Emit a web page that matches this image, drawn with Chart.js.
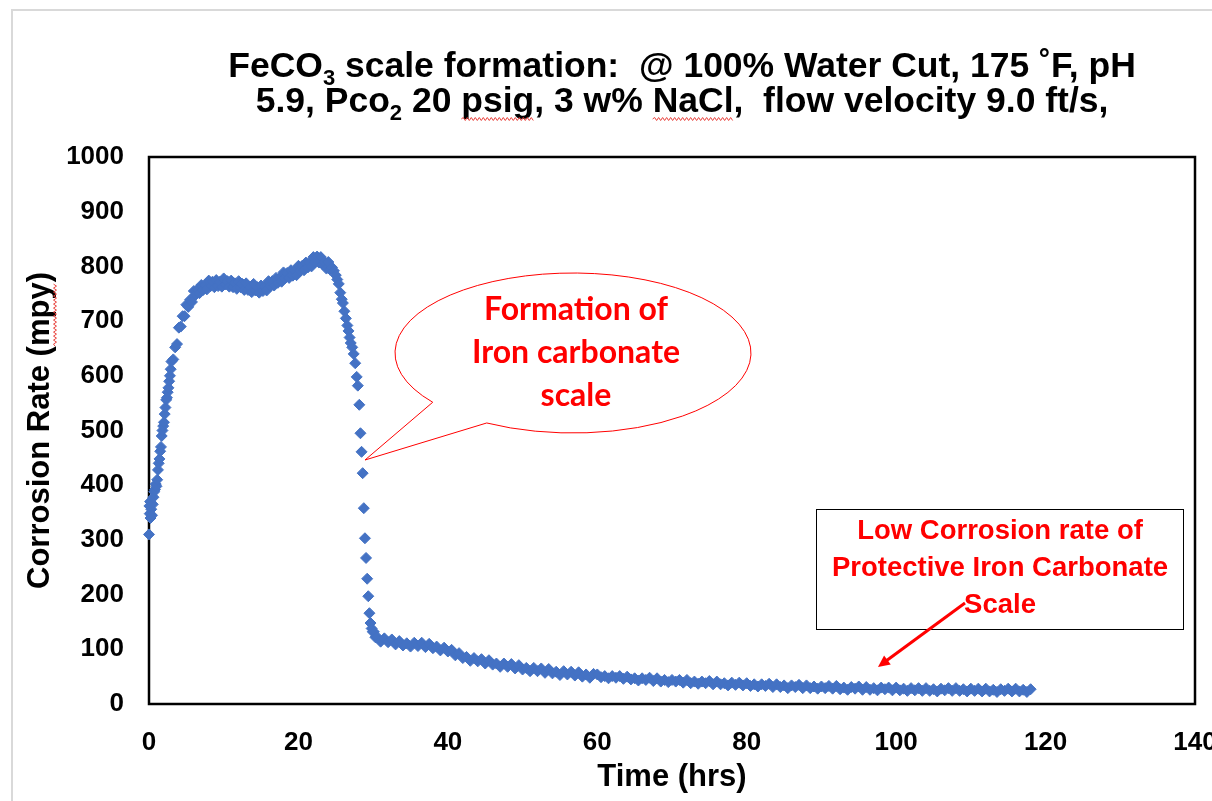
<!DOCTYPE html>
<html>
<head>
<meta charset="utf-8">
<script src="https://cdn.jsdelivr.net/npm/chart.js@4.4.0/dist/chart.umd.min.js"></script>
<style>
  html, body { margin: 0; padding: 0; background: #fff; }
  #wrap { width: 1212px; height: 801px; }
</style>
</head>
<body>
<div id="wrap"><canvas id="corrosionChart" width="1212" height="801"></canvas></div>
<script>
// start-up: quick climb from ~310 mpy
const riseHours = [0, 0.05, 0.1, 0.15, 0.2, 0.3, 0.4, 0.5, 0.6, 0.7,
  0.8, 0.9, 1.0, 1.1, 1.2, 1.3, 1.4, 1.5, 1.6, 1.7,
  1.8, 1.9, 2.0, 2.1, 2.2, 2.3, 2.4, 2.5, 2.6, 2.7,
  2.8, 2.9];
const riseRate = [310, 362, 348, 370, 340, 356, 345, 365, 378, 388,
  392, 402, 398, 410, 428, 440, 448, 462, 470, 490,
  500, 508, 515, 530, 542, 556, 560, 570, 578, 590,
  600, 612];

// plateau up to the ~820 mpy peak
const plateauHours = [3, 3.25, 3.5, 3.75, 4, 4.25, 4.5, 4.75, 5, 5.25,
  5.5, 5.75, 6, 6.25, 6.5, 6.75, 7, 7.25, 7.5, 7.75,
  8, 8.25, 8.5, 8.75, 9, 9.25, 9.5, 9.75, 10, 10.25,
  10.5, 10.75, 11, 11.25, 11.5, 11.75, 12, 12.25, 12.5, 12.75,
  13, 13.25, 13.5, 13.75, 14, 14.25, 14.5, 14.75, 15, 15.25,
  15.5, 15.75, 16, 16.25, 16.5, 16.75, 17, 17.25, 17.5, 17.75,
  18, 18.25, 18.5, 18.75, 19, 19.25, 19.5, 19.75, 20, 20.25,
  20.5, 20.75, 21, 21.25, 21.5, 21.75, 22, 22.25, 22.5, 22.75,
  23, 23.25, 23.5, 23.75, 24, 24.25, 24.5];
const plateauRate = [626, 630, 652, 658, 688, 690, 709, 709, 730, 726,
  739, 735, 755, 748, 758, 751, 766, 757, 766, 758,
  774, 764, 772, 762, 775, 764, 772, 763, 778, 767,
  773, 763, 774, 762, 769, 759, 773, 762, 768, 757,
  769, 757, 763, 753, 768, 756, 762, 752, 765, 755,
  763, 756, 773, 764, 773, 765, 779, 770, 779, 772,
  789, 779, 788, 779, 793, 783, 792, 784, 801, 792,
  801, 793, 807, 798, 807, 800, 817, 808, 818, 807,
  817, 804, 808, 796, 808, 794, 798];

// scale forms: steep drop
const dropHours = [24.75, 25.0, 25.2, 25.4, 25.6, 25.8, 25.95, 26.15, 26.35, 26.55,
  26.7, 26.85, 27.0, 27.2, 27.4, 27.6, 27.8, 27.95, 28.15, 28.3,
  28.45, 28.6, 28.75, 28.9, 29.05, 29.2, 29.35, 29.5, 29.65, 29.8,
  29.95];
const dropRate = [792, 784, 776, 768, 752, 740, 733, 718, 705, 692,
  682, 670, 660, 652, 640, 623, 598, 582, 547, 495,
  461, 422, 358, 303, 267, 229, 197, 166, 148, 138,
  132];

// protective scale: slow decay to ~25 mpy
const tailHours = [30.1, 30.3, 30.5, 31, 31.5, 32, 32.5, 33, 33.5, 34,
  34.5, 35, 35.5, 36, 36.5, 37, 37.5, 38, 38.5, 39,
  39.5, 40, 40.5, 41, 41.5, 42, 42.5, 43, 43.5, 44,
  44.5, 45, 45.5, 46, 46.5, 47, 47.5, 48, 48.5, 49,
  49.5, 50, 50.5, 51, 51.5, 52, 52.5, 53, 53.5, 54,
  54.5, 55, 55.5, 56, 56.5, 57, 57.5, 58, 58.5, 59,
  59.5, 60, 60.5, 61, 61.5, 62, 62.5, 63, 63.5, 64,
  64.5, 65, 65.5, 66, 66.5, 67, 67.5, 68, 68.5, 69,
  69.5, 70, 70.5, 71, 71.5, 72, 72.5, 73, 73.5, 74,
  74.5, 75, 75.5, 76, 76.5, 77, 77.5, 78, 78.5, 79,
  79.5, 80, 80.5, 81, 81.5, 82, 82.5, 83, 83.5, 84,
  84.5, 85, 85.5, 86, 86.5, 87, 87.5, 88, 88.5, 89,
  89.5, 90, 90.5, 91, 91.5, 92, 92.5, 93, 93.5, 94,
  94.5, 95, 95.5, 96, 96.5, 97, 97.5, 98, 98.5, 99,
  99.5, 100, 100.5, 101, 101.5, 102, 102.5, 103, 103.5, 104,
  104.5, 105, 105.5, 106, 106.5, 107, 107.5, 108, 108.5, 109,
  109.5, 110, 110.5, 111, 111.5, 112, 112.5, 113, 113.5, 114,
  114.5, 115, 115.5, 116, 116.5, 117, 117.5, 118];
const tailRate = [132, 122, 123, 114, 120, 113, 118, 109, 115, 107,
  111, 105, 112, 106, 112, 104, 110, 102, 105, 98,
  103, 96, 99, 89, 93, 84, 86, 79, 84, 78,
  82, 74, 80, 72, 74, 68, 74, 68, 73, 65,
  71, 63, 66, 60, 66, 60, 65, 57, 64, 56,
  59, 53, 60, 54, 59, 52, 58, 50, 54, 48,
  55, 54, 49, 51, 47, 51, 48, 51, 46, 50,
  45, 47, 43, 47, 44, 48, 42, 47, 41, 44,
  40, 44, 41, 44, 39, 44, 38, 41, 37, 41,
  38, 42, 36, 41, 36, 38, 34, 39, 35, 39,
  34, 38, 33, 36, 32, 36, 33, 37, 31, 36,
  31, 34, 29, 34, 31, 35, 29, 34, 29, 32,
  28, 32, 29, 33, 28, 33, 27, 30, 26, 31,
  28, 32, 26, 31, 26, 29, 25, 30, 27, 30,
  25, 30, 25, 28, 24, 29, 25, 29, 24, 29,
  24, 27, 23, 28, 25, 29, 24, 29, 24, 27,
  23, 28, 24, 28, 23, 28, 23, 26, 22, 27,
  24, 28, 23, 28, 23, 26, 22, 27];

const xTicks = [0, 20, 40, 60, 80, 100, 120, 140];
const yTicks = [0, 100, 200, 300, 400, 500, 600, 700, 800, 900, 1000];

const hours = riseHours.concat(plateauHours, dropHours, tailHours);
const rate = riseRate.concat(plateauRate, dropRate, tailRate);
const points = hours.map((h, i) => ({ x: h, y: rate[i] }));

const ARIAL = '"Liberation Sans", Arial, sans-serif';
const BLUE = '#4472C4';
const RED = '#ff0000';

// red spell-check style wavy line
function squiggle(ctx, x1, y1, len, vertical) {
  ctx.save();
  ctx.strokeStyle = '#e8413c';
  ctx.lineWidth = 1;
  ctx.beginPath();
  ctx.moveTo(x1, y1);
  let up = true;
  for (let s = 2; s <= len; s += 2) {
    const off = up ? -1.5 : 1.5;
    if (vertical) ctx.lineTo(x1 + off, y1 - s);
    else ctx.lineTo(x1 + s, y1 + off);
    up = !up;
  }
  ctx.stroke();
  ctx.restore();
}

function drawRuns(ctx, runs, cx, baseline, size) {
  const fontFor = r => 'bold ' + (r.sub ? Math.round(size * 0.62) : size) + 'px ' + ARIAL;
  let total = 0;
  runs.forEach(r => { ctx.font = fontFor(r); r.w = ctx.measureText(r.text).width; total += r.w; });
  let x = cx - total / 2;
  ctx.textAlign = 'left';
  ctx.textBaseline = 'alphabetic';
  ctx.fillStyle = '#000';
  runs.forEach(r => {
    ctx.font = fontFor(r);
    ctx.fillText(r.text, x, r.sub ? baseline + size * 0.22 : baseline);
    if (r.wavy) squiggle(ctx, x, baseline + 7, r.w, false);
    x += r.w;
  });
}

const decor = {
  id: 'decor',
  beforeDraw(chart) {
    const ctx = chart.ctx;
    ctx.save();
    ctx.strokeStyle = '#d9d9d9';
    ctx.lineWidth = 2;
    ctx.beginPath();
    ctx.moveTo(12, 801);
    ctx.lineTo(12, 10);
    ctx.lineTo(1212, 10);
    ctx.stroke();
    ctx.restore();
  },
  beforeDatasetsDraw(chart) {
    const { ctx, chartArea: a } = chart;
    ctx.save();
    ctx.strokeStyle = '#000';
    ctx.lineWidth = 2.5;
    ctx.strokeRect(a.left, a.top, a.right - a.left, a.bottom - a.top);
    ctx.restore();
  },
  afterDraw(chart) {
    const { ctx, chartArea: a } = chart;
    ctx.save();

    // title with subscripts
    drawRuns(ctx, [
      { text: 'FeCO' }, { text: '3', sub: true },
      { text: ' scale formation:  @ 100% Water Cut, 175 \u02DAF, pH' }
    ], 682, 77, 35.5);
    drawRuns(ctx, [
      { text: '5.9, Pco' }, { text: '2', sub: true }, { text: ' 20 ' },
      { text: 'psig', wavy: true }, { text: ', 3 w% ' }, { text: 'NaCl', wavy: true },
      { text: ',  flow velocity 9.0 ft/s,' }
    ], 682, 112, 35.5);

    // squiggle under "mpy" in the y title
    ctx.font = 'bold 31px ' + ARIAL;
    const full = ctx.measureText('Corrosion Rate (mpy)').width;
    const pre = ctx.measureText('Corrosion Rate (').width;
    const mpyW = ctx.measureText('mpy').width;
    const start = (a.top + a.bottom) / 2 + full / 2;
    squiggle(ctx, 55, start - pre, mpyW, true);

    // speech bubble
    const cx = 573, cy = 353, rx = 178, ry = 80;
    const a1 = 142 * Math.PI / 180, a2 = 119 * Math.PI / 180;
    ctx.beginPath();
    ctx.ellipse(cx, cy, rx, ry, 0, a1, a2 + 2 * Math.PI, false);
    ctx.lineTo(365, 460);
    ctx.closePath();
    ctx.fillStyle = '#fff';
    ctx.fill();
    ctx.strokeStyle = RED;
    ctx.lineWidth = 1;
    ctx.stroke();

    ctx.fillStyle = RED;
    ctx.textAlign = 'center';
    ctx.textBaseline = 'middle';
    ctx.font = 'bold 32px Lato, "Open Sans", sans-serif';
    ctx.fillText('Formation of', 576, 310);
    ctx.fillText('Iron carbonate', 576, 353);
    ctx.fillText('scale', 576, 396);

    // note box
    ctx.fillStyle = '#fff';
    ctx.fillRect(816, 509, 367, 120);
    ctx.strokeStyle = '#000';
    ctx.lineWidth = 1;
    ctx.strokeRect(816.5, 509.5, 367, 120);
    ctx.fillStyle = RED;
    ctx.font = 'bold 27.5px ' + ARIAL;
    ctx.fillText('Low Corrosion rate of', 1000, 531);
    ctx.fillText('Protective Iron Carbonate', 1000, 568);
    ctx.fillText('Scale', 1000, 605);

    // arrow
    ctx.strokeStyle = RED;
    ctx.lineWidth = 3;
    ctx.beginPath();
    ctx.moveTo(965, 603);
    ctx.lineTo(886, 661);
    ctx.stroke();
    const ang = Math.atan2(667 - 603, 878 - 965);
    ctx.beginPath();
    ctx.moveTo(878, 667);
    ctx.lineTo(878 - 13 * Math.cos(ang - 0.45), 667 - 13 * Math.sin(ang - 0.45));
    ctx.lineTo(878 - 13 * Math.cos(ang + 0.45), 667 - 13 * Math.sin(ang + 0.45));
    ctx.closePath();
    ctx.fillStyle = RED;
    ctx.fill();

    ctx.restore();
  }
};

const config = {
  type: 'scatter',
  data: {
    datasets: [{
      label: 'Corrosion Rate',
      data: points,
      pointStyle: 'rectRot',
      pointRadius: 5.5,
      pointHoverRadius: 5.5,
      pointBackgroundColor: BLUE,
      pointBorderColor: BLUE,
      pointBorderWidth: 1,
      clip: false
    }]
  },
  options: {
    responsive: false,
    animation: false,
    events: [],
    layout: { padding: { top: 157, right: 17, left: 0, bottom: 0 } },
    plugins: {
      legend: { display: false },
      tooltip: { enabled: false },
      title: { display: false }
    },
    scales: {
      x: {
        type: 'linear',
        min: 0,
        max: 140,
        afterBuildTicks: scale => { scale.ticks = xTicks.map(v => ({ value: v })); },
        grid: { display: false, drawTicks: false },
        border: { display: false },
        ticks: { padding: 23, color: '#000', font: { family: ARIAL, size: 26, weight: 'bold' }, callback: v => String(v) },
        title: {
          display: true, text: 'Time (hrs)', color: '#000',
          font: { family: ARIAL, size: 31, weight: 'bold' },
          padding: { top: 0, bottom: 5 }
        },
        afterFit: scale => { scale.height = 97; scale.paddingLeft = 0; scale.paddingRight = 0; }
      },
      y: {
        min: 0,
        max: 1000,
        afterBuildTicks: scale => { scale.ticks = yTicks.map(v => ({ value: v })); },
        grid: { display: false, drawTicks: false },
        border: { display: false },
        ticks: { padding: 25, color: '#000', font: { family: ARIAL, size: 26, weight: 'bold' }, callback: v => String(v) },
        title: {
          display: true, text: 'Corrosion Rate (mpy)', color: '#000',
          font: { family: ARIAL, size: 31, weight: 'bold' },
          padding: { top: 22, bottom: 0 }
        },
        afterFit: scale => { scale.width = 149; }
      }
    }
  },
  plugins: [decor]
};

const corrosionChart = new Chart(document.getElementById('corrosionChart').getContext('2d'), config);
</script>
</body>
</html>
